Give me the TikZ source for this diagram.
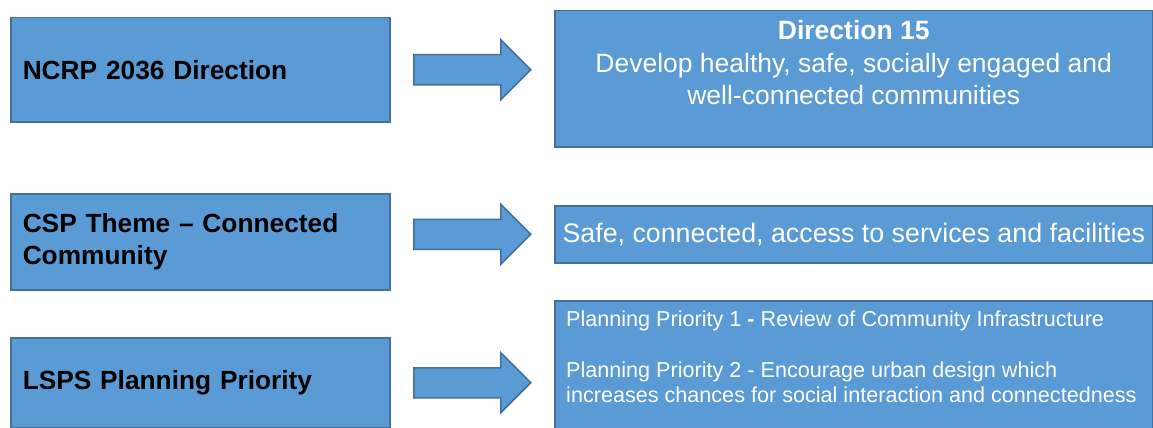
\documentclass[tikz,border=0pt]{standalone}
\usepackage{fontspec}
\setmainfont{Liberation Sans}
\usepackage{xcolor}
\usepackage{tikz}
\usetikzlibrary{positioning, calc}

\definecolor{boxblue}{HTML}{5B9BD5}
\definecolor{boxline}{HTML}{41719C}

\begin{document}
\begin{tikzpicture}[
    x=1pt, y=-1pt,
    lbox/.style={draw=boxline, line width=1.5pt, fill=boxblue, anchor=north west, minimum width=379pt, text width=355pt, inner xsep=12pt, align=left, font=\fontsize{26.3}{32}\selectfont\bfseries},
    rbox/.style={draw=boxline, line width=1.5pt, fill=boxblue, anchor=north west, minimum width=598pt, text=white},
    rtxt/.style={text=white, inner sep=0pt, font=\fontsize{26.5}{32.5}\selectfont},
    ptxt/.style={text=white, inner sep=0pt, align=left, font=\fontsize{21.6}{25.5}\selectfont},
    blk/.style={draw=boxline, line width=1.5pt, fill=boxblue, line join=miter}
]
    \useasboundingbox (0,0) rectangle (1153,428);

    % Left column
    \node[lbox, minimum height=104pt] (ncrp) at (10,17)  {NCRP 2036 Direction};
    \node[lbox, minimum height=96pt]  (csp)  at (10,193) {CSP Theme – Connected\\Community};
    \node[lbox, minimum height=90pt]  (lsps) at (10,337) {LSPS Planning Priority};

    % Right column
    \node[rbox, minimum height=136pt] (dir15) at (554,10) {};
    \node[rtxt, align=center, anchor=north, yshift=-10.5pt] (dir15txt) at (dir15.north)
        {\bfseries Direction 15\\Develop healthy, safe, socially engaged and\\well-connected communities};
    \node[rbox, minimum height=57pt, font=\fontsize{26.8}{32.5}\selectfont] (safe) at (554,205)
        {Safe, connected, access to services and facilities};
    \node[rbox, minimum height=140pt] (prio) at (554,300) {};
    \node[ptxt, anchor=north west, xshift=12pt, yshift=-10.3pt] (priotxt) at (prio.north west)
        {Planning Priority 1 \textbf{-} Review of Community Infrastructure\\[25.5pt]
         Planning Priority 2 - Encourage urban design which\\
         increases chances for social interaction and connectedness};

    % Block arrows
    \coordinate (a1) at ($(ncrp.east)!0.5!(ncrp.east -| dir15.west)$);
    \coordinate (a2) at ($(safe.west)!0.5!(safe.west -| csp.east)$);
    \coordinate (a3) at ($(lsps.east)!0.5!(lsps.east -| prio.west)$);
    \foreach \c in {a1,a2,a3}
        \draw[blk, shift={(\c)}] (-58.5,-15) -- (28.5,-15) -- (28.5,-30) -- (58.5,0)
            -- (28.5,30) -- (28.5,15) -- (-58.5,15) -- cycle;
\end{tikzpicture}
\end{document}
